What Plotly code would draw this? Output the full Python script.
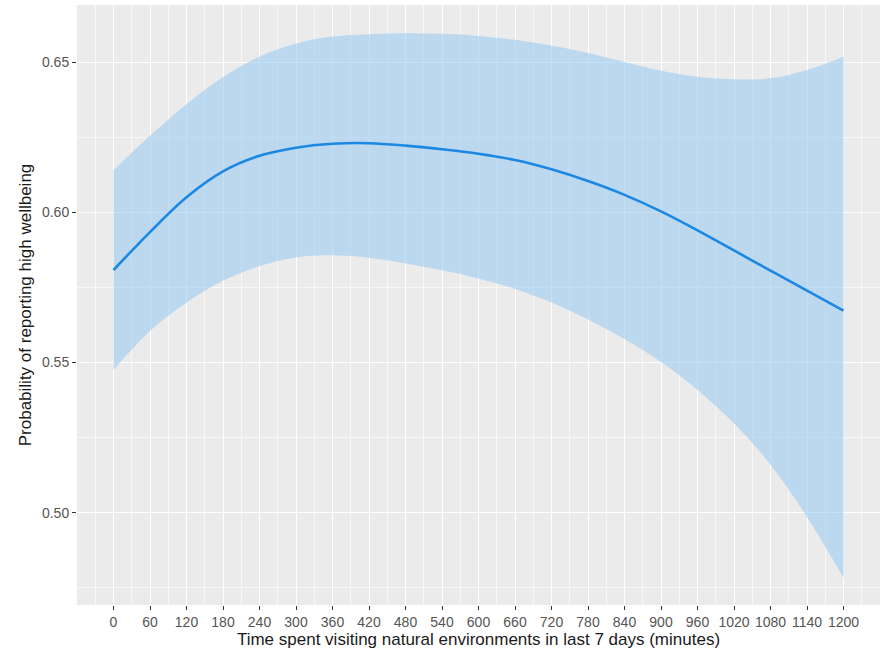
import plotly.graph_objects as go

minutes = [0, 60, 120, 180, 240, 300, 360, 420, 480, 540, 600, 660, 720, 780,
           840, 900, 960, 1020, 1080, 1140, 1200]
fit = [0.5808, 0.5934, 0.6050, 0.6136, 0.6188, 0.6215, 0.6228, 0.6230, 0.6222,
       0.6210, 0.6195, 0.6174, 0.6143, 0.6104, 0.6058, 0.6003, 0.5940, 0.5873,
       0.5806, 0.5739, 0.5673]
upper = [0.6140, 0.6255, 0.6360, 0.6450, 0.6518, 0.6562, 0.6585, 0.6593, 0.6596,
         0.6594, 0.6587, 0.6574, 0.6555, 0.6530, 0.6500, 0.6471, 0.6451, 0.6443,
         0.6446, 0.6474, 0.6518]
lower = [0.5475, 0.5605, 0.5700, 0.5772, 0.5821, 0.5850, 0.5857, 0.5849, 0.5830,
         0.5807, 0.5780, 0.5745, 0.5700, 0.5643, 0.5578, 0.5502, 0.5409, 0.5298,
         0.5160, 0.4986, 0.4784]

x_ticks = list(range(0, 1201, 60))
y_ticks = [0.50, 0.55, 0.60, 0.65]

fig = go.Figure()
fig.add_trace(go.Scatter(x=minutes, y=lower, mode="lines",
                         line=dict(width=0, shape="spline", color="rgba(0,0,0,0)"),
                         showlegend=False, hoverinfo="skip"))
fig.add_trace(go.Scatter(x=minutes, y=upper, mode="lines", fill="tonexty",
                         fillcolor="rgba(151,202,242,0.58)",
                         line=dict(width=0, shape="spline", color="rgba(0,0,0,0)"),
                         showlegend=False, hoverinfo="skip"))
fig.add_trace(go.Scatter(x=minutes, y=fit, mode="lines",
                         line=dict(width=2.6, shape="spline", color="rgb(28,136,228)"),
                         showlegend=False))

axis_font = dict(family="Liberation Sans, Arial, sans-serif", size=14, color="#555555")
title_font = dict(family="Liberation Sans, Arial, sans-serif", size=17, color="#1a1a1a")

fig.update_layout(
    width=883, height=649,
    margin=dict(l=77, r=3, t=5, b=44),
    paper_bgcolor="white",
    plot_bgcolor="#EBEBEB",
    showlegend=False,
    xaxis=dict(
        range=[-60, 1260], tickmode="array", tickvals=x_ticks,
        ticktext=[str(v) for v in x_ticks],
        showgrid=True, gridcolor="white", gridwidth=1.4,
        zeroline=False, showline=False,
        ticks="outside", ticklen=4, tickwidth=1, tickcolor="#333333",
        tickfont=axis_font,
        minor=dict(tickmode="array", tickvals=[v + 30 for v in [-60] + x_ticks],
                   showgrid=True, gridcolor="rgba(255,255,255,0.6)", gridwidth=0.7,
                   ticks=""),
        title=dict(text="Time spent visiting natural environments in last 7 days (minutes)",
                   font=title_font, standoff=2),
    ),
    yaxis=dict(
        range=[0.4693, 0.669], tickmode="array", tickvals=y_ticks,
        ticktext=["%.2f" % v for v in y_ticks],
        showgrid=True, gridcolor="white", gridwidth=1.4,
        zeroline=False, showline=False,
        ticks="outside", ticklen=4, tickwidth=1, tickcolor="#333333",
        tickfont=axis_font,
        minor=dict(tickmode="array", tickvals=[0.475, 0.525, 0.575, 0.625],
                   showgrid=True, gridcolor="rgba(255,255,255,0.6)", gridwidth=0.7,
                   ticks=""),
        title=dict(text="Probability of reporting high wellbeing",
                   font=title_font, standoff=6),
    ),
)

fig.write_html("out.html")
